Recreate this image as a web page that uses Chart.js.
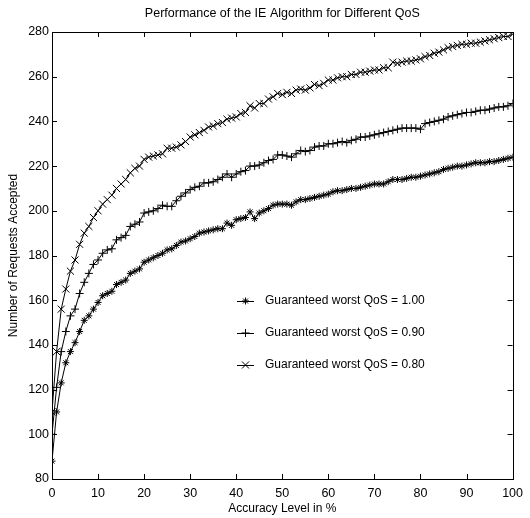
<!DOCTYPE html>
<html>
<head>
<meta charset="utf-8">
<script src="https://cdn.jsdelivr.net/npm/chart.js@4.4.0/dist/chart.umd.min.js"></script>
<style>
    html, body { margin: 0; padding: 0; background: #ffffff; }
    #wrap { width: 530px; height: 518px; }
</style>
</head>
<body>
<div id="wrap"><canvas id="qosChart" width="530" height="518"></canvas></div>
<script>
// Accuracy level (x) in %
const accuracyLevels = [
    0, 1, 2, 3, 4, 5, 6, 7, 8, 9, 10, 11, 12, 13, 14, 15, 16, 17, 18, 19,
    20, 21, 22, 23, 24, 25, 26, 27, 28, 29, 30, 31, 32, 33, 34, 35, 36, 37, 38, 39,
    40, 41, 42, 43, 44, 45, 46, 47, 48, 49, 50, 51, 52, 53, 54, 55, 56, 57, 58, 59,
    60, 61, 62, 63, 64, 65, 66, 67, 68, 69, 70, 71, 72, 73, 74, 75, 76, 77, 78, 79,
    80, 81, 82, 83, 84, 85, 86, 87, 88, 89, 90, 91, 92, 93, 94, 95, 96, 97, 98, 99, 100
];

// Requests accepted, guaranteed worst QoS = 1.00  (-*-)
const qos100 = [
    88, 110, 123, 132, 137, 141, 146, 151, 153, 156, 159, 162, 163, 164, 167, 168, 169, 172, 173, 174,
    177, 178, 179, 180, 181, 182.5, 183, 184.5, 186, 186.5, 187.5, 188.5, 190, 190.5, 191, 191.5, 192, 192, 194.5, 193.5,
    196, 196.5, 197, 199.5, 196.5, 199, 200, 201, 202.5, 203, 203, 203, 202.5, 204, 205, 205, 205.5, 206, 206.5, 207,
    207.5, 208.5, 209, 209, 209.5, 210, 210, 210.5, 211, 211.5, 212, 212, 212, 213, 214, 214, 214, 214.5, 215, 215,
    215.5, 216, 216.5, 217, 217.5, 218.5, 219, 219.5, 220, 220, 220.5, 221, 221.5, 221.5, 221.5, 222, 222, 222.5, 223, 223.5, 224
];

// Requests accepted, guaranteed worst QoS = 0.90  (-+-)
const qos090 = [
    100, 121, 137, 146, 153, 156, 163, 168, 172, 176, 178, 181, 182.5, 183, 187, 188, 189, 193, 194, 195,
    199, 199.5, 200, 201, 202.5, 202, 202, 204.5, 206.5, 208, 209.5, 210.5, 211, 212.5, 212.5, 213, 214, 215, 216.5, 215,
    216.5, 217.5, 218, 220, 220, 220.5, 221.5, 222.5, 223, 225, 225, 224.5, 224, 225.5, 227, 226.5, 227, 228.5, 229, 229,
    230, 230, 230.5, 231, 230.5, 231.5, 232, 233, 233, 233.5, 234, 234.5, 235, 235.5, 236, 236.5, 237, 237, 237, 237,
    236.5, 239, 239.5, 240, 240.5, 241, 242, 242.5, 243, 243.5, 244, 244, 244.5, 245, 245, 245.5, 246, 246.5, 246.5, 247, 248
];

// Requests accepted, guaranteed worst QoS = 0.80  (-X-)
const qos080 = [
    110, 137, 156, 165, 173, 178, 185, 190, 193, 197, 200, 203, 205, 207, 210, 212, 214, 217, 219, 220,
    223, 224, 224.5, 225, 225.5, 228, 228, 228.5, 229.5, 231, 233, 234, 235, 236, 237.5, 238, 239, 239.5, 241, 241.5,
    242, 243.5, 244, 247, 246, 248, 248, 250, 251, 252.5, 252, 253, 252.5, 254, 254.5, 254, 255, 256.5, 256, 257,
    258.5, 258.5, 259.5, 260, 260, 261, 261, 262, 262, 262.5, 263, 263, 264, 264, 266.5, 266, 266.5, 267, 267, 267.5,
    268, 269, 269.5, 270.5, 271, 272, 273, 273.5, 274, 274.5, 274.5, 275, 275, 275.5, 276, 276.5, 277, 277.5, 278, 278, 279
];

const seriesLabels = [
    'Guaranteed worst QoS = 1.00',
    'Guaranteed worst QoS = 0.90',
    'Guaranteed worst QoS = 0.80'
];

const xTicks = [0, 10, 20, 30, 40, 50, 60, 70, 80, 90, 100];
const yTicks = [80, 100, 120, 140, 160, 180, 200, 220, 240, 260, 280];

const FONT = '"Liberation Sans", Arial, Helvetica, sans-serif';

function toPoints(values) {
    return values.map((v, i) => ({ x: accuracyLevels[i], y: v }));
}

// Box frame with inward tick marks on all four sides + the legend in the plot
const matlabBox = {
    id: 'matlabBox',
    afterDatasetsDraw(chart) {
        const ctx = chart.ctx;
        const area = chart.chartArea;
        const xs = chart.scales.x;
        const ys = chart.scales.y;
        const tl = 5;

        ctx.save();
        ctx.strokeStyle = '#000000';
        ctx.lineWidth = 1;
        ctx.strokeRect(Math.round(area.left) + 0.5, Math.round(area.top) + 0.5,
            Math.round(area.right - area.left), Math.round(area.bottom - area.top));

        ctx.beginPath();
        xs.ticks.forEach(t => {
            const px = Math.round(xs.getPixelForValue(t.value)) + 0.5;
            ctx.moveTo(px, area.bottom);
            ctx.lineTo(px, area.bottom - tl);
            ctx.moveTo(px, area.top);
            ctx.lineTo(px, area.top + tl);
        });
        ys.ticks.forEach(t => {
            const py = Math.round(ys.getPixelForValue(t.value)) + 0.5;
            ctx.moveTo(area.left, py);
            ctx.lineTo(area.left + tl, py);
            ctx.moveTo(area.right, py);
            ctx.lineTo(area.right - tl, py);
        });
        ctx.stroke();

        // legend
        const lx = 237;
        const ly = 301;
        const gap = 32;
        ctx.font = '12px ' + FONT;
        ctx.textBaseline = 'middle';
        ctx.fillStyle = '#000000';
        chart.data.datasets.forEach((ds, i) => {
            const y = ly + i * gap;
            ctx.beginPath();
            ctx.moveTo(lx, y + 0.5);
            ctx.lineTo(lx + 17, y + 0.5);
            ctx.stroke();
            Chart.helpers.drawPoint(ctx, {
                pointStyle: ds.pointStyle,
                radius: ds.pointRadius,
                borderWidth: 1,
                rotation: 0
            }, lx + 8.5, y);
            ctx.fillText(ds.label, lx + 28, y);
        });
        ctx.restore();
    }
};

const ctx = document.getElementById('qosChart').getContext('2d');

new Chart(ctx, {
    type: 'line',
    data: {
        datasets: [
            {
                label: seriesLabels[0],
                data: toPoints(qos100),
                pointStyle: 'star',
                pointRadius: 3.5
            },
            {
                label: seriesLabels[1],
                data: toPoints(qos090),
                pointStyle: 'cross',
                pointRadius: 4
            },
            {
                label: seriesLabels[2],
                data: toPoints(qos080),
                pointStyle: 'crossRot',
                pointRadius: 5
            }
        ].map(ds => Object.assign(ds, {
            borderColor: '#000000',
            backgroundColor: '#000000',
            borderWidth: 1,
            pointBorderColor: '#000000',
            pointBorderWidth: 1,
            pointHoverRadius: ds.pointRadius,
            tension: 0,
            fill: false
        }))
    },
    options: {
        responsive: false,
        animation: false,
        layout: {
            padding: { left: 0, right: 14, top: 0, bottom: 0 }
        },
        plugins: {
            legend: { display: false },
            tooltip: { enabled: false },
            title: {
                display: true,
                text: 'Performance of the IE Algorithm for Different QoS',
                fullSize: false,
                color: '#000000',
                font: { family: FONT, size: 12.5, weight: 'normal', lineHeight: 1.2 },
                padding: { top: 6, bottom: 11 }
            }
        },
        scales: {
            x: {
                type: 'linear',
                min: 0,
                max: 100,
                afterBuildTicks: scale => {
                    scale.ticks = xTicks.map(v => ({ value: v }));
                },
                afterFit: scale => {
                    scale.height = 39;
                },
                grid: { display: false, drawTicks: false },
                border: { display: false },
                ticks: {
                    color: '#000000',
                    font: { family: FONT, size: 12.5 },
                    padding: 7,
                    maxRotation: 0,
                    autoSkip: false
                },
                title: {
                    display: true,
                    text: 'Accuracy Level in %',
                    color: '#000000',
                    font: { family: FONT, size: 12, lineHeight: 1.2 },
                    padding: { top: 0, bottom: 2 }
                }
            },
            y: {
                type: 'linear',
                min: 80,
                max: 280,
                afterBuildTicks: scale => {
                    scale.ticks = yTicks.map(v => ({ value: v }));
                },
                afterFit: scale => {
                    scale.width = 52;
                },
                grid: { display: false, drawTicks: false },
                border: { display: false },
                ticks: {
                    color: '#000000',
                    font: { family: FONT, size: 12.5 },
                    padding: 3,
                    autoSkip: false
                },
                title: {
                    display: true,
                    text: 'Number of Requests Accepted',
                    color: '#000000',
                    font: { family: FONT, size: 12, lineHeight: 1.2 },
                    padding: { top: 6, bottom: 0 }
                }
            }
        }
    },
    plugins: [matlabBox]
});
</script>
</body>
</html>
